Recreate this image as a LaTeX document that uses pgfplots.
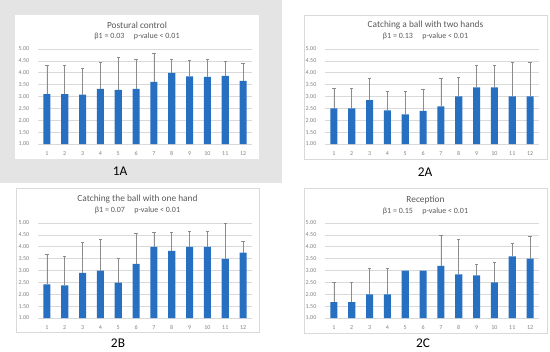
\documentclass[border=0pt]{standalone}
\usepackage{pgfplots}
\pgfplotsset{compat=1.18}
\usepackage{fontspec}
\setmainfont{Carlito}
\definecolor{barblue}{RGB}{38,111,193}
\definecolor{bggray}{RGB}{228,228,228}
\definecolor{gridgray}{RGB}{217,217,217}
\definecolor{txtgray}{RGB}{89,89,89}
\definecolor{lblgray}{RGB}{130,130,130}
\definecolor{errgray}{RGB}{140,140,140}
\pgfplotsset{panel/.style={
  scale only axis, width=160.5pt, height=71.25pt,
  anchor=south west,
  xmin=0.5, xmax=12.5, ymin=1, ymax=5,
  xtick={1,...,12}, ytick={1,1.5,2,2.5,3,3.5,4,4.5,5},
  ymajorgrids, grid style={gridgray, line width=0.5pt},
  axis line style={draw=none},
  major tick length=0pt,
  tick label style={font=\fontsize{4.5}{5}\selectfont, text=lblgray},
  y tick label style={/pgf/number format/fixed, /pgf/number format/fixed zerofill, /pgf/number format/precision=2},
  /pgf/number format/assume math mode=true,
  xticklabel style={yshift=-2pt},
  yticklabel style={xshift=-3pt},
  ybar, bar width=0.4,
  clip=false,
},
bars/.style={fill=barblue, draw=none, bar shift=0pt,
  error bars/.cd, y dir=plus, y explicit,
  error bar style={errgray, line width=0.5pt},
  error mark options={rotate=90, errgray, mark size=1.3pt, line width=0.5pt}},
nobars/.style={fill=barblue, draw=none, bar shift=0pt}
}
\newcommand{\ttl}{\fontsize{7}{8}\selectfont}
\newcommand{\sub}{\fontsize{6}{7}\selectfont}
\begin{document}
\begin{tikzpicture}[x=0.75pt,y=0.75pt]
\path[fill=white] (0,0) rectangle (550,351);
\fill[bggray] (0,168) rectangle (282,351);
\fill[white] (15,192) rectangle (259,336);
\draw[gray!30, fill=white, line width=0.5pt] (304,192) rectangle (547,336);
\draw[gray!30, fill=white, line width=0.5pt] (16,19) rectangle (259,163);
\draw[gray!30, fill=white, line width=0.5pt] (304,18) rectangle (547,163);

% 1A
\node[text=txtgray, font=\ttl] at (137,326) {Postural control};
\node[text=txtgray, font=\sub] at (137,315) {β1 = 0.03\hspace{7pt}p-value < 0.01};
\node[font=\fontsize{10}{12}\selectfont] at (120,180) {1A};
\begin{axis}[panel, at={(28.5pt,155.25pt)}]
\addplot[bars] coordinates {
(1,3.10) +- (0,1.20)
(2,3.10) +- (0,1.20)
(3,3.08) +- (0,1.11)
(4,3.32) +- (0,1.12)
(5,3.28) +- (0,1.38)
(6,3.32) +- (0,1.24)
(7,3.62) +- (0,1.19)
(8,3.99) +- (0,0.59)
(9,3.85) +- (0,0.69)
(10,3.83) +- (0,0.75)
(11,3.87) +- (0,0.61)
(12,3.66) +- (0,0.72)
};
\end{axis}

% 2A
\node[text=txtgray, font=\ttl] at (425.5,326) {Catching a ball with two hands};
\node[text=txtgray, font=\sub] at (425.5,315) {β1 = 0.13\hspace{7pt}p-value < 0.01};
\node[font=\fontsize{10}{12}\selectfont] at (425,179) {2A};
\begin{axis}[panel, at={(243.75pt,155.25pt)}]
\addplot[bars] coordinates {
(1,2.50) +- (0,0.84)
(2,2.50) +- (0,0.84)
(3,2.85) +- (0,0.90)
(4,2.42) +- (0,0.81)
(5,2.25) +- (0,0.95)
(6,2.40) +- (0,0.89)
(7,2.58) +- (0,1.17)
(8,3.00) +- (0,0.82)
(9,3.38) +- (0,0.92)
(10,3.38) +- (0,0.92)
(11,3.00) +- (0,1.43)
(12,3.00) +- (0,1.43)
};
\end{axis}

% 2B
\node[text=txtgray, font=\ttl] at (137.5,152) {Catching the ball with one hand};
\node[text=txtgray, font=\sub] at (137.5,141) {β1 = 0.07\hspace{7pt}p-value < 0.01};
\node[font=\fontsize{10}{12}\selectfont] at (118,8) {2B};
\begin{axis}[panel, at={(28.5pt,24.75pt)}]
\addplot[bars] coordinates {
(1,2.42) +- (0,1.28)
(2,2.37) +- (0,1.21)
(3,2.90) +- (0,1.30)
(4,3.00) +- (0,1.33)
(5,2.49) +- (0,1.02)
(6,3.28) +- (0,1.27)
(7,4.00) +- (0,0.60)
(8,3.83) +- (0,0.77)
(9,4.00) +- (0,0.65)
(10,4.00) +- (0,0.65)
(11,3.49) +- (0,1.51)
(12,3.75) +- (0,0.48)
};
\end{axis}

% 2C
\node[text=txtgray, font=\ttl] at (425.5,151) {Reception};
\node[text=txtgray, font=\sub] at (425.5,140) {β1 = 0.15\hspace{7pt}p-value < 0.01};
\node[font=\fontsize{10}{12}\selectfont] at (423,8) {2C};
\begin{axis}[panel, at={(243.75pt,24.75pt)}]
\addplot[bars] coordinates {
(1,1.67) +- (0,0.83)
(2,1.67) +- (0,0.83)
(3,2.00) +- (0,1.10)
(4,2.00) +- (0,1.10)
(7,3.20) +- (0,1.30)
(8,2.84) +- (0,1.47)
(9,2.79) +- (0,0.46)
(10,2.50) +- (0,0.84)
(11,3.60) +- (0,0.55)
(12,3.50) +- (0,0.94)
};
\addplot[nobars] coordinates {(5,3.00) (6,3.00)};
\end{axis}
\end{tikzpicture}
\end{document}
